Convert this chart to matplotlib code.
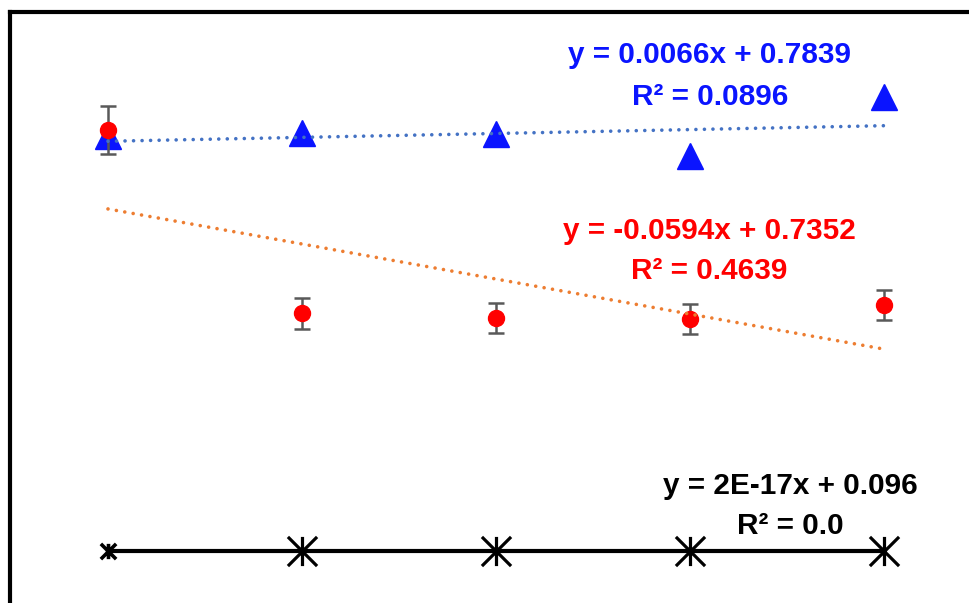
import numpy as np
import matplotlib.pyplot as plt
from matplotlib.path import Path

x = [1, 2, 3, 4, 5]
blue_vals = [0.800, 0.804, 0.803, 0.765, 0.865]
red_vals = [0.810, 0.499, 0.491, 0.489, 0.513]
red_err = [0.041, 0.026, 0.025, 0.025, 0.025]
black_vals = [0.096, 0.096, 0.096, 0.096, 0.096]

blue_fit = (0.0066, 0.7839)
red_fit = (-0.0594, 0.7352)
black_fit = (2e-17, 0.096)

plt.rcParams['font.family'] = ['Liberation Sans Narrow', 'Liberation Sans', 'DejaVu Sans']

fig = plt.figure(figsize=(9.7, 6.03), dpi=100)
ax = fig.add_axes([10 / 970, 0, 1 - 10 / 970, 1 - 12 / 603])
ax.set_xlim(0.495, 5.443)
ax.set_ylim(0.0079, 1.0096)
for s in ['right', 'bottom']:
    ax.spines[s].set_visible(False)
for s in ['left', 'top']:
    ax.spines[s].set_linewidth(3)
ax.set_xticks([])
ax.set_yticks([])

# asterisk marker: vertical bar plus two diagonals
star = Path([(0, -1), (0, 1), (-1, -1), (1, 1), (-1, 1), (1, -1)],
            [Path.MOVETO, Path.LINETO, Path.MOVETO, Path.LINETO, Path.MOVETO, Path.LINETO])

# blue series
ax.plot(x, blue_vals, linestyle='none', marker='^', markersize=19, color='#0A14FF', zorder=2)

# red series with error bars
ax.errorbar(x, red_vals, yerr=red_err, fmt='o', markersize=11.5, color='#FF0000',
            ecolor='#595959', elinewidth=1.8, capsize=6, capthick=1.8, zorder=3)

# black series
ax.plot(x, black_vals, color='black', linewidth=3, zorder=2)
ax.plot(x[:1], black_vals[:1], linestyle='none', marker=star, markersize=11,
        markeredgewidth=2.6, color='black', zorder=4)
ax.plot(x[1:], black_vals[1:], linestyle='none', marker=star, markersize=21,
        markeredgewidth=2.3, color='black', zorder=4)

# trend lines
xf = np.array([1, 5])
ax.plot(xf, blue_fit[0] * xf + blue_fit[1], color='#4472C4', linewidth=2.6,
        dashes=(0.01, 2.35), dash_capstyle='round', zorder=5)
ax.plot(xf, red_fit[0] * xf + red_fit[1], color='#ED7D31', linewidth=2.6,
        dashes=(0.01, 2.35), dash_capstyle='round', zorder=5)

def px(xp, yp):
    return ax.transAxes.inverted().transform(fig.transFigure.transform((xp / 970, 1 - yp / 603)))

kw = dict(ha='center', va='center', fontsize=21.4, fontweight='bold', transform=ax.transAxes)
ax.text(*px(710, 55), 'y = 0.0066x + 0.7839', color='#0A14FF', **kw)
ax.text(*px(710, 97), 'R² = 0.0896', color='#0A14FF', **kw)
ax.text(*px(709, 231), 'y = -0.0594x + 0.7352', color='#FF0000', **kw)
ax.text(*px(709, 271), 'R² = 0.4639', color='#FF0000', **kw)
ax.text(*px(790, 486), 'y = 2E-17x + 0.096', color='black', **kw)
ax.text(*px(790, 526), 'R² = 0.0', color='black', **kw)

plt.savefig('out.png', dpi=100)
